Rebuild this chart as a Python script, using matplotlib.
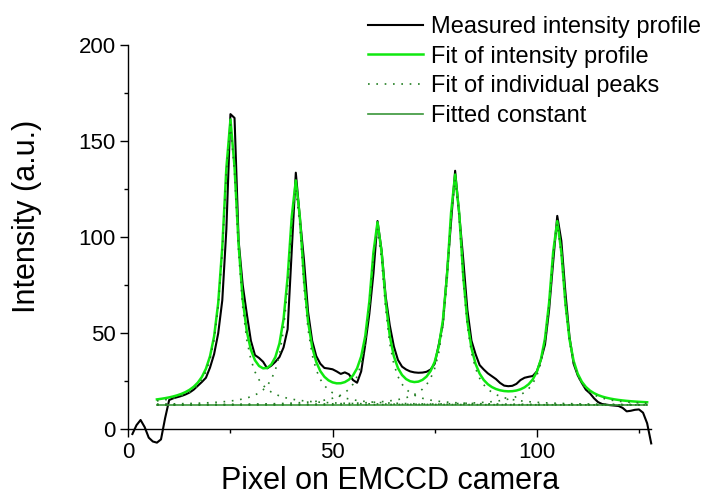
import numpy as np
import matplotlib.pyplot as plt
from matplotlib.ticker import MultipleLocator

plt.rcParams['font.family'] = ['Liberation Sans', 'DejaVu Sans']

# measured intensity, one value per camera pixel (1..128)
pixel = np.arange(1, 129)
measured = [
    -2.6, 2.0, 4.7, 1.0, -4.5, -6.5, -7.1, -5.4, 5.6, 15.1,
    16.0, 16.6, 17.2, 18.0, 19.0, 20.5, 22.5, 24.5, 26.7, 32.0,
    39.0, 49.8, 67.0, 104.0, 164.0, 162.0, 98.0, 75.0, 60.0, 46.0,
    38.5, 37.0, 35.0, 31.6, 33.0, 35.0, 37.5, 42.5, 52.0, 93.0,
    133.5, 110.0, 88.0, 61.0, 46.0, 38.0, 34.0, 31.8, 31.5, 31.1,
    30.0, 28.7, 29.5, 28.5, 25.5, 24.1, 30.0, 44.0, 60.0, 81.0,
    108.3, 93.0, 69.0, 54.0, 43.0, 36.0, 32.5, 31.0, 30.0, 29.5,
    29.3, 29.4, 29.8, 31.0, 34.0, 44.0, 55.0, 81.0, 108.0, 134.5,
    112.0, 88.0, 62.0, 46.0, 39.0, 33.3, 31.0, 29.0, 27.5, 26.0,
    24.0, 22.6, 22.3, 22.5, 23.5, 25.5, 26.7, 27.2, 27.6, 30.0,
    36.0, 44.0, 62.0, 87.0, 111.0, 98.0, 71.0, 48.0, 34.0, 28.0,
    24.0, 20.5, 18.6, 16.0, 14.0, 13.0, 12.7, 12.4, 12.2, 12.0,
    11.0, 9.2, 9.5, 10.0, 10.2, 8.5, 3.0, -7.5,
]

# fit: constant background plus five Lorentzian peaks
fit_pixel = np.arange(7, 128)
fit_const = 12.5
peak_centre = [25.0, 41.0, 61.0, 80.0, 105.0]
peak_height = [146.0, 112.7, 91.5, 117.5, 94.4]
peak_hwhm = [2.2, 2.2, 2.2, 2.2, 2.2]

peaks = [h * g ** 2 / ((fit_pixel - c) ** 2 + g ** 2)
         for c, h, g in zip(peak_centre, peak_height, peak_hwhm)]
fit_total = fit_const + np.sum(peaks, axis=0)

fig = plt.figure(figsize=(7.07, 4.95), dpi=100)
ax = fig.add_axes([0.1815, 0.1333, 0.7396, 0.7758])

ax.plot(pixel, measured, color='black', lw=1.5, clip_on=False, zorder=2,
        label='Measured intensity profile')
ax.plot(fit_pixel, fit_total, color='#10e810', lw=1.8, zorder=3,
        label='Fit of intensity profile')
ax.plot(fit_pixel, np.full(fit_pixel.shape, fit_const), color='#3a963a',
        lw=1.2, zorder=4, label='Fitted constant')
for i, p in enumerate(peaks):
    ax.plot(fit_pixel, fit_const + p, color='#237f23', lw=1.2,
            ls=(0, (1, 4)), zorder=5,
            label='Fit of individual peaks' if i == 0 else None)

ax.set_xlim(0, 128)
ax.set_ylim(0, 200)
ax.xaxis.set_major_locator(MultipleLocator(50))
ax.xaxis.set_minor_locator(MultipleLocator(25))
ax.yaxis.set_major_locator(MultipleLocator(50))
ax.yaxis.set_minor_locator(MultipleLocator(25))
ax.tick_params(which='major', direction='out', length=5.5, width=1,
               labelsize=16, pad=3.5)
ax.tick_params(which='minor', direction='out', length=3, width=1)
for side in ('top', 'right'):
    ax.spines[side].set_visible(False)
for side in ('left', 'bottom'):
    ax.spines[side].set_linewidth(1)

ax.set_xlabel('Pixel on EMCCD camera', fontsize=22)
ax.set_ylabel('Intensity (a.u.)', fontsize=22)
ax.xaxis.set_label_coords(0.5, -0.097)
ax.yaxis.set_label_coords(-0.165, 0.555)

handles, labels = ax.get_legend_handles_labels()
order = [0, 1, 3, 2]
fig.legend([handles[i] for i in order], [labels[i] for i in order],
           loc='upper left', bbox_to_anchor=(0.5205, 0.968),
           frameon=False, fontsize=17, borderpad=0, borderaxespad=0,
           handlelength=2.35, handletextpad=0.3, labelspacing=0.33)

fig.savefig('out.png', dpi=100)
